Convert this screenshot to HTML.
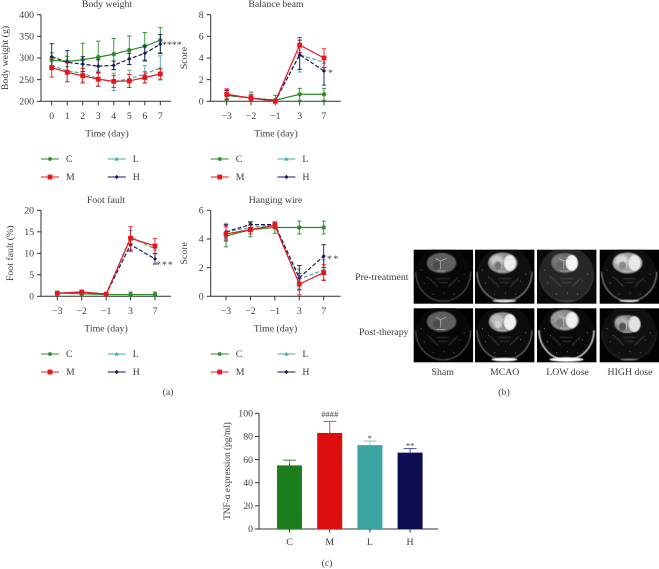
<!DOCTYPE html>
<html>
<head>
<meta charset="utf-8">
<style>
html,body{margin:0;padding:0;background:#fff;}
svg{display:block;}
text{font-family:"Liberation Serif",serif;fill:#3a3a3a;font-size:9.8px;}
</style>
</head>
<body>
<svg id="fig" xmlns="http://www.w3.org/2000/svg" width="659" height="569" viewBox="0 0 659 569">
<defs>
<filter id="b1" x="-30%" y="-30%" width="160%" height="160%"><feGaussianBlur stdDeviation="0.6"/></filter>
<filter id="b2" x="-30%" y="-30%" width="160%" height="160%"><feGaussianBlur stdDeviation="1.4"/></filter>
<filter id="soft" x="-5%" y="-5%" width="110%" height="110%"><feGaussianBlur stdDeviation="0.3"/></filter>
</defs>
<g id="plots" filter="url(#soft)"></g>
<g id="mri"></g>
<g filter="url(#soft)">
<text x="408.5" y="280" text-anchor="end">Pre-treatment</text>
<text x="408.5" y="335" text-anchor="end">Post-therapy</text>
<text x="442.7" y="375" text-anchor="middle">Sham</text>
<text x="504.7" y="375" text-anchor="middle">MCAO</text>
<text x="567.5" y="375" text-anchor="middle">LOW dose</text>
<text x="630" y="375" text-anchor="middle">HIGH dose</text>
<text x="168" y="395" text-anchor="middle">(a)</text>
<text x="504" y="395" text-anchor="middle">(b)</text>
<text x="327" y="566" text-anchor="middle">(c)</text>
</g>
</svg>
<script>
// ---- chart data ----
var seriesNames = ['C', 'L', 'M', 'H'];
var seriesColors = { C: '#2a8c2a', M: '#e8181d', L: '#45aaa8', H: '#17175c' };

var bwDays = ['0', '1', '2', '3', '4', '5', '6', '7'];
var bwTicks = [200, 250, 300, 350, 400];
var bwC = [295, 292, 296, 302, 309, 318, 327, 341];
var bwCErr = [17, 12, 38, 37, 36, 33, 32, 29];
var bwM = [278, 267, 259, 251, 246, 247, 255, 263];
var bwMErr = [22, 22, 17, 16, 14, 15, 13, 12];
var bwL = [283, 270, 265, 252, 245, 252, 263, 277];
var bwLErr = [10, 25, 20, 18, 20, 20, 20, 28];
var bwH = [303, 290, 286, 281, 283, 298, 311, 332];
var bwHErr = [30, 27, 17, 15, 10, 13, 18, 22];

var testDays = ['\u22123', '\u22122', '\u22121', '3', '7'];

var beamTicks = [0, 2, 4, 6, 8];
var beamC = [0.55, 0.3, 0.1, 0.65, 0.65];
var beamCErr = [0.5, 0.55, 0.45, 0.55, 0.55];
var beamM = [0.65, 0.3, 0, 5.2, 4];
var beamMErr = [0.5, 0.3, 0.1, 0.7, 0.85];
var beamL = [0.6, 0.3, 0.05, 4.3, 3.6];
var beamLErr = [0.4, 0.3, 0.1, 1.6, 0.5];
var beamH = [0.6, 0.3, 0.05, 4.3, 2.8];
var beamHErr = [0.4, 0.3, 0.1, 1.35, 1.3];

var footTicks = [0, 5, 10, 15, 20];
var footC = [0.8, 0.6, 0.4, 0.4, 0.4];
var footCErr = [0.4, 0.5, 0.5, 0.6, 0.6];
var footM = [0.7, 1, 0.5, 13.5, 11.7];
var footMErr = [0.2, 0.2, 0.1, 2.7, 1.7];
var footL = [0.7, 1, 0.5, 13.8, 11];
var footLErr = [0.2, 0.2, 0.1, 1.5, 1];
var footH = [0.7, 1, 0.5, 12, 8.7];
var footHErr = [0.2, 0.2, 0.1, 1.5, 1.2];

var wireTicks = [0, 2, 4, 6];
var wireC = [4.2, 4.65, 4.8, 4.8, 4.8];
var wireCErr = [0.75, 0.5, 0.4, 0.45, 0.45];
var wireM = [4.35, 4.65, 4.95, 0.85, 1.65];
var wireMErr = [0.5, 0.3, 0.2, 0.75, 0.55];
var wireL = [4.5, 4.8, 5, 1.2, 1.85];
var wireLErr = [0.6, 0.3, 0.1, 0.7, 0.7];
var wireH = [4.5, 5, 5, 1.3, 2.8];
var wireHErr = [0.5, 0.2, 0.1, 0.85, 0.8];

var barCategories = ['C', 'M', 'L', 'H'];
var barValues = [55, 83, 72.5, 66];
var barErrors = [4.5, 10, 3.5, 3.5];
var barMarks = ['', '####', '*', '**'];
var barTicks = [0, 20, 40, 60, 80, 100];

// ---- helpers ----
var NS = 'http://www.w3.org/2000/svg';
var root = document.getElementById('plots');
function mk(tag, parent, attrs, name) {
  var el = document.createElementNS(NS, tag);
  for (var k in attrs) el.setAttribute(k, attrs[k]);
  
  
  parent.appendChild(el);
  return el;
}
function txt(parent, s, x, y, anchor, name, rot) {
  var a = { x: x, y: y, 'text-anchor': anchor };
  if (rot) a.transform = 'rotate(-90 ' + x + ' ' + y + ')';
  var t = mk('text', parent, a, name);
  t.textContent = s;
  return t;
}
function marker(g, s, x, y, big, name) {
  var c = seriesColors[s];
  if (s === 'C') mk('circle', g, { cx: x, cy: y, r: big ? 2.2 : 1.9, fill: c }, name);
  else if (s === 'M') mk('rect', g, { x: x - 2.4, y: y - 2.4, width: 4.8, height: 4.8, fill: c }, name);
  else if (s === 'L') mk('path', g, { d: 'M' + x + ' ' + (y - 2.2) + 'L' + (x + 2.2) + ' ' + (y + 1.6) + 'L' + (x - 2.2) + ' ' + (y + 1.6) + 'Z', fill: c }, name);
  else mk('path', g, { d: 'M' + x + ' ' + (y - 2.1) + 'L' + (x + 2.1) + ' ' + y + 'L' + x + ' ' + (y + 2.1) + 'L' + (x - 2.1) + ' ' + y + 'Z', fill: c }, name);
}

function lineChart(cfg) {
  var g = mk('g', root, {}, cfg.name);
  var yScale = function (v) {
    return cfg.yBottom - (v - cfg.yMin) / (cfg.yMax - cfg.yMin) * (cfg.yBottom - cfg.yTop);
  };
  var xScale = function (i) {
    return cfg.x0 + (cfg.x1 - cfg.x0) * i / (cfg.cats.length - 1);
  };
  // axes
  mk('line', g, { x1: cfg.axisX, x2: cfg.axisX, y1: cfg.yTop, y2: cfg.yBottom + 0.5, stroke: '#333', 'stroke-width': 1 }, 'y-axis');
  mk('line', g, { x1: cfg.axisX - 0.5, x2: cfg.axisEnd, y1: cfg.yBottom, y2: cfg.yBottom, stroke: '#333', 'stroke-width': 1 }, 'x-axis');
  cfg.ticks.forEach(function (t) {
    var y = yScale(t);
    mk('line', g, { x1: cfg.axisX - 4, x2: cfg.axisX, y1: y, y2: y, stroke: '#333', 'stroke-width': 1 }, 'y-tick');
    txt(g, String(t), cfg.axisX - 7, y + 3.2, 'end', 'y-tick-label');
  });
  cfg.cats.forEach(function (c, i) {
    var x = xScale(i);
    mk('line', g, { x1: x, x2: x, y1: cfg.yBottom, y2: cfg.yBottom + 4, stroke: '#333', 'stroke-width': 1 }, 'x-tick');
    txt(g, c, x, cfg.yBottom + 17.5, 'middle', 'x-tick-label');
  });
  // labels
  txt(g, cfg.title, cfg.titleX, cfg.yTop - 7.5, 'middle', 'chart-title');
  txt(g, 'Time (day)', cfg.titleX, cfg.yBottom + 35, 'middle', 'x-axis-title');
  txt(g, cfg.yLabel, cfg.yLabelX, (cfg.yTop + cfg.yBottom) / 2, 'middle', 'y-axis-title', true);

  // series
  ['C', 'L', 'H', 'M'].forEach(function (s) {
    var vals = cfg.data[s], errs = cfg.err[s], col = seriesColors[s];
    var sg = mk('g', g, {}, 'series-' + s);
    vals.forEach(function (v, i) {
      var x = xScale(i);
      var top = yScale(v + errs[i]);
      var bot = Math.min(yScale(v - errs[i]), cfg.yBottom);
      mk('line', sg, { x1: x, x2: x, y1: top, y2: bot, stroke: col, 'stroke-width': 0.9 }, 'error-bar');
      mk('line', sg, { x1: x - 2.2, x2: x + 2.2, y1: top, y2: top, stroke: col, 'stroke-width': 0.9 }, 'error-cap');
      mk('line', sg, { x1: x - 2.2, x2: x + 2.2, y1: bot, y2: bot, stroke: col, 'stroke-width': 0.9 }, 'error-cap');
    });
    var pts = vals.map(function (v, i) { return xScale(i) + ',' + yScale(v); }).join(' ');
    var la = { points: pts, fill: 'none', stroke: col, 'stroke-width': 1.2 };
    if (s === 'L' || s === 'H') la['stroke-dasharray'] = '4 2';
    mk('polyline', sg, la, 'line-' + s);
    vals.forEach(function (v, i) { marker(sg, s, xScale(i), yScale(v), true, 'point-' + s); });
  });

  // significance marks
  var sig = txt(g, cfg.sig, cfg.sigX, cfg.sigY, 'start', 'significance-mark');
  sig.setAttribute('letter-spacing', cfg.sigGap);

  // legend
  var leg = mk('g', g, {}, 'legend');
  var rows = [['C', 0, 0], ['L', 1, 0], ['M', 0, 1], ['H', 1, 1]];
  rows.forEach(function (r) {
    var lx = cfg.legendX + r[1] * 66.7, ly = cfg.legendY + r[2] * 18;
    var e = mk('g', leg, {}, 'legend-entry-' + r[0]);
    var la = { x1: lx, x2: lx + 18, y1: ly, y2: ly, stroke: seriesColors[r[0]], 'stroke-width': 1.1 };
    mk('line', e, la, 'legend-line');
    marker(e, r[0], lx + 9, ly, false, 'legend-marker');
    txt(e, r[0], lx + 25, ly + 3.2, 'start', 'legend-label');
  });
}

lineChart({
  name: 'body-weight-chart', title: 'Body weight', yLabel: 'Body weight (g)', yLabelX: 8,
  titleX: 107, cats: bwDays, ticks: bwTicks, yMin: 200, yMax: 400, yTop: 14.7, yBottom: 101.3,
  axisX: 41, axisEnd: 171, x0: 51.7, x1: 160.3, legendX: 41, legendY: 159,
  data: { C: bwC, M: bwM, L: bwL, H: bwH }, err: { C: bwCErr, M: bwMErr, L: bwLErr, H: bwHErr },
  sig: '****', sigGap: '0', sigX: 162, sigY: 48
});
lineChart({
  name: 'balance-beam-chart', title: 'Balance beam', yLabel: 'Score', yLabelX: 187,
  titleX: 276, cats: testDays, ticks: beamTicks, yMin: 0, yMax: 8, yTop: 14.7, yBottom: 101.3,
  axisX: 210.7, axisEnd: 340.7, x0: 226.7, x1: 324, legendX: 210.7, legendY: 159,
  data: { C: beamC, M: beamM, L: beamL, H: beamH }, err: { C: beamCErr, M: beamMErr, L: beamLErr, H: beamHErr },
  sig: '*', sigGap: '0', sigX: 328, sigY: 76
});
lineChart({
  name: 'foot-fault-chart', title: 'Foot fault', yLabel: 'Foot fault (%)', yLabelX: 13,
  titleX: 106, cats: testDays, ticks: footTicks, yMin: 0, yMax: 20, yTop: 210.3, yBottom: 296.3,
  axisX: 41, axisEnd: 171, x0: 57.3, x1: 155, legendX: 41, legendY: 354,
  data: { C: footC, M: footM, L: footL, H: footH }, err: { C: footCErr, M: footMErr, L: footLErr, H: footHErr },
  sig: '***', sigGap: '1', sigX: 156, sigY: 268
});
lineChart({
  name: 'hanging-wire-chart', title: 'Hanging wire', yLabel: 'Score', yLabelX: 187,
  titleX: 275.5, cats: testDays, ticks: wireTicks, yMin: 0, yMax: 6, yTop: 210.3, yBottom: 296.3,
  axisX: 210.7, axisEnd: 340.7, x0: 226, x1: 323.7, legendX: 210.7, legendY: 354,
  data: { C: wireC, M: wireM, L: wireL, H: wireH }, err: { C: wireCErr, M: wireMErr, L: wireLErr, H: wireHErr },
  sig: '**', sigGap: '1.5', sigX: 327, sigY: 262
});

// ---- bar chart ----
(function () {
  var g = mk('g', root, {}, 'tnf-alpha-chart');
  var yTop = 413.3, yBot = 529, axisX = 259, axisEnd = 438, x0 = 289.5, step = 40.2, bw = 25;
  var yS = function (v) { return yBot - v / 100 * (yBot - yTop); };
  var barCols = ['#1e7d1e', '#dd0a0a', '#3aa3a1', '#0e0e52'];
  var capCols = ['#3a943a', '#e84a4a', '#7cc8c6', '#5050a0'];
  mk('line', g, { x1: axisX, x2: axisX, y1: yTop, y2: yBot + 0.5, stroke: '#333', 'stroke-width': 1 }, 'y-axis');
  mk('line', g, { x1: axisX - 0.5, x2: axisEnd, y1: yBot, y2: yBot, stroke: '#333', 'stroke-width': 1 }, 'x-axis');
  barTicks.forEach(function (t) {
    var y = yS(t);
    mk('line', g, { x1: axisX - 4, x2: axisX, y1: y, y2: y, stroke: '#333', 'stroke-width': 1 }, 'y-tick');
    txt(g, String(t), axisX - 6, y + 3.2, 'end', 'y-tick-label');
  });
  barCategories.forEach(function (c, i) {
    var x = x0 + step * i;
    var top = yS(barValues[i]);
    var et = yS(barValues[i] + barErrors[i]);
    mk('line', g, { x1: x, x2: x, y1: et, y2: top, stroke: capCols[i], 'stroke-width': 1 }, 'error-bar');
    mk('line', g, { x1: x - 6.5, x2: x + 6.5, y1: et, y2: et, stroke: capCols[i], 'stroke-width': 1 }, 'error-cap');
    mk('rect', g, { x: x - bw / 2, y: top, width: bw, height: yBot - top, fill: barCols[i] }, 'bar-' + c);
    mk('line', g, { x1: x, x2: x, y1: yBot, y2: yBot + 3.5, stroke: '#333', 'stroke-width': 1 }, 'x-tick');
    txt(g, c, x, yBot + 16, 'middle', 'x-tick-label');
    if (barMarks[i]) {
      var m = txt(g, barMarks[i], x, i === 1 ? et - 4.5 : et, 'middle', 'significance-mark');
      m.style.fontSize = '8.5px';
    }
  });
  var yl = txt(g, 'TNF-\u03B1 expression (pg/ml)', 230, 471, 'middle', 'y-axis-title', true);
  yl.style.fontSize = '9.3px';
})();

// ---- MRI thumbnails (illustrative, not data) ----
(function () {
  var m = document.getElementById('mri');
  var cols = [413.7, 475, 537, 599.7], rows = [249.7, 308.3];
  var W = 59.4, H = 54;
  var sham = { brain: '#5f5f5f', left: null, right: null, core: '#4a4a4a', skull: 0.5, width: 0.7, band: 0, bandR: 10, bandH: 1, dy: 0, rx: 14.8, ry: 10.2, head: '#080808', bg: '#020202' };
  var cfgs = [
    [sham,
     { brain: '#8f8f8f', left: '#c8c8c8', right: '#ececec', core: '#777', skull: 0.55, width: 1.1, band: 0.8, bandR: 12, bandH: 1.5, dy: 0, rx: 14.8, ry: 10.5, head: '#101010', bg: '#020202' },
     { brain: '#6c6c6c', left: '#777', right: '#f5f5f5', core: '#666', skull: 0.1, width: 0.7, band: 0.1, bandR: 10, bandH: 1, dy: 0, rx: 13.5, ry: 10, head: '#262626', bg: '#0a0a0a' },
     { brain: '#a2a2a2', left: '#d8d8d8', right: '#e8e8e8', core: '#8a8a8a', skull: 0.6, width: 1, band: 0.75, bandR: 10, bandH: 1.2, dy: 0, rx: 15, ry: 10.5, head: '#0e0e0e', bg: '#020202' }],
    [sham,
     { brain: '#8f8f8f', left: '#bbbbbb', right: '#f0f0f0', core: '#d0d0d0', skull: 0.5, width: 1, band: 1, bandR: 13, bandH: 1.7, dy: 0.5, rx: 14, ry: 10, head: '#0c0c0c', bg: '#020202' },
     { brain: '#8a8a8a', left: '#9c9c9c', right: '#f0f0f0', core: '#7a7a7a', skull: 0.8, width: 1.6, band: 1, bandR: 17, bandH: 2.2, dy: -1.5, rx: 14.5, ry: 10.5, head: '#0a0a0a', bg: '#020202' },
     { brain: '#808080', left: '#aaaaaa', right: '#e0e0e0', core: '#555', skull: 0.12, width: 0.7, band: 0.45, bandR: 9, bandH: 0.9, dy: 2.5, rx: 13, ry: 9, head: '#101010', bg: '#030303' }]
  ];
  var specks = [[7, 20], [13, 27], [50, 24], [45, 31], [19, 44], [40, 44], [30, 43], [10, 33]];
  rows.forEach(function (ry, r) {
    cols.forEach(function (cx, c) {
      var k = cfgs[r][c];
      var g = mk('g', m, {}, 'mri-scan-r' + (r + 1) + '-c' + (c + 1));
      var clipId = 'cl' + r + c;
      var defs = mk('clipPath', g, { id: clipId }, 'scan-clip');
      mk('rect', defs, { x: cx, y: ry, width: W, height: H }, 'scan-clip-rect');
      mk('rect', g, { x: cx, y: ry, width: W, height: H, fill: k.bg }, 'scan-background');
      var ig = mk('g', g, { 'clip-path': 'url(#' + clipId + ')' }, 'scan-content');
      var mx = cx + 29.5, bx = cx + 27.8, by = ry + 13.3 + k.dy;
      // head tissue
      mk('ellipse', ig, { cx: mx, cy: ry + 25, rx: 27.5, ry: 28, fill: k.head }, 'head-tissue');
      // skull outline: lower arc only
      var arc = 'M' + (mx - 27.5) + ' ' + (ry + 22) + 'A27.5 29.5 0 0 0 ' + (mx + 27.5) + ' ' + (ry + 22);
      mk('path', ig, { d: arc, fill: 'none', stroke: '#ffffff', 'stroke-width': k.width, opacity: k.skull, filter: 'url(#b1)' }, 'skull-outline');
      // jaw structures
      var jaw = 'M' + (cx + 15) + ' ' + (ry + 28) + 'L' + (cx + 24) + ' ' + (ry + 37) + 'M' + (cx + 44) + ' ' + (ry + 28) + 'L' + (cx + 35) + ' ' + (ry + 37) + 'M' + (cx + 23) + ' ' + (ry + 29) + 'L' + (cx + 36) + ' ' + (ry + 29) + 'M' + (cx + 25) + ' ' + (ry + 33) + 'L' + (cx + 34) + ' ' + (ry + 33);
      mk('path', ig, { d: jaw, stroke: '#8a8a8a', 'stroke-width': 0.7, fill: 'none', filter: 'url(#b1)', opacity: 0.55 }, 'jaw-structure');
      specks.forEach(function (p) {
        mk('rect', ig, { x: cx + p[0], y: ry + p[1], width: 0.9, height: 0.9, fill: '#bbb', opacity: 0.6 }, 'bright-speck');
      });
      // bottom band
      if (k.band > 0) {
        mk('ellipse', ig, { cx: mx, cy: ry + 51.2, rx: k.bandR, ry: k.bandH, fill: '#fff', opacity: k.band, filter: 'url(#b1)' }, 'bottom-band');
      }
      // brain
      mk('ellipse', ig, { cx: bx, cy: by, rx: k.rx, ry: k.ry, fill: k.brain, filter: 'url(#b1)' }, 'brain');
      if (k.left) {
        mk('ellipse', ig, { cx: bx - 6, cy: by - 2.5, rx: 6.5, ry: 5.5, fill: k.left, filter: 'url(#b2)' }, 'left-hemisphere');
        mk('ellipse', ig, { cx: bx + 7, cy: by, rx: 6, ry: 8, fill: k.right, filter: 'url(#b1)' }, 'lesion');
      }
      mk('ellipse', ig, { cx: bx - 5, cy: by + 2.5, rx: 3.5, ry: 4, fill: k.core, filter: 'url(#b1)' }, 'striatum');
      // ventricles
      var v = 'M' + (bx - 6) + ' ' + (by - 4.5) + 'L' + (bx - 1) + ' ' + (by - 2) + 'L' + (bx - 1) + ' ' + (by + 6) + 'M' + (bx + 5) + ' ' + (by - 4.5) + 'L' + (bx - 1) + ' ' + (by - 2) + 'M' + (bx - 5) + ' ' + (by + 8) + 'L' + (bx + 4) + ' ' + (by + 8);
      mk('path', ig, { d: v, stroke: '#cfcfcf', 'stroke-width': 0.7, fill: 'none', opacity: 0.75, filter: 'url(#soft)' }, 'ventricles');
    });
  });
})();
</script>
</body>
</html>
